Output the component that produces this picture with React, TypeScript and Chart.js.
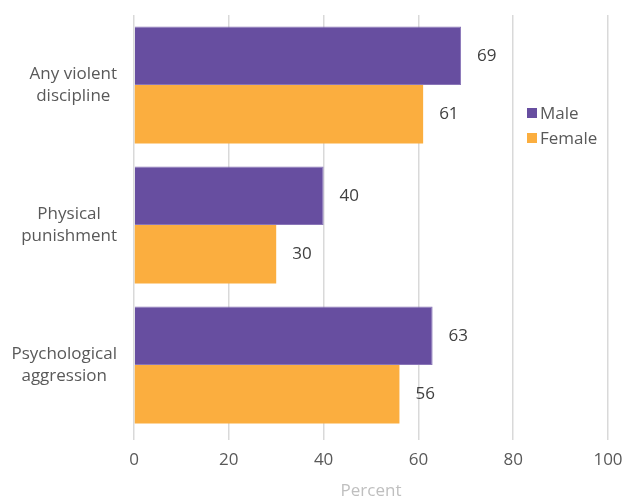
import React, { useEffect, useRef } from "react";
import { Chart, registerables } from "chart.js";

Chart.register(...registerables);

const categories: string[][] = [
  ["Any violent", "discipline"],
  ["Physical", "punishment"],
  ["Psychological", "aggression"],
];
const maleValues = [69, 40, 63];
const femaleValues = [61, 30, 56];
const xTicks = [0, 20, 40, 60, 80, 100];
const seriesNames = ["Male", "Female"];
const colors = ["#674ea0", "#fbae3f"];

const FONT = "'Open Sans', sans-serif";
const FS = 17;

const labelPlugin = {
  id: "customLabels",
  afterDatasetsDraw(chart: any) {
    const ctx = chart.ctx;
    ctx.save();
    ctx.font = `${FS}px ${FONT}`;
    ctx.fillStyle = "#404040";
    ctx.textBaseline = "middle";
    ctx.textAlign = "left";
    chart.data.datasets.forEach((ds: any, i: number) => {
      const meta = chart.getDatasetMeta(i);
      meta.data.forEach((bar: any, j: number) => {
        ctx.fillText(String(ds.data[j]), bar.x + 16, bar.y);
      });
    });
    // y category labels
    const yScale = chart.scales.y;
    ctx.fillStyle = "#595959";
    ctx.textAlign = "center";
    categories.forEach((lines, i) => {
      const cy = yScale.getPixelForValue(i);
      let maxW = 0;
      lines.forEach((l) => (maxW = Math.max(maxW, ctx.measureText(l).width)));
      const right = chart.chartArea.left - 17;
      const cx = right - maxW / 2;
      const lh = 22;
      const startY = cy - ((lines.length - 1) * lh) / 2;
      lines.forEach((l, k) => ctx.fillText(l, cx, startY + k * lh));
    });
    ctx.restore();
  },
};

export default function App() {
  const ref = useRef<HTMLCanvasElement>(null);
  useEffect(() => {
    if (!ref.current) return;
    const chart = new Chart(ref.current, {
      type: "bar",
      data: {
        labels: categories.map((c) => c.join(" ")),
        datasets: [
          {
            label: seriesNames[0],
            data: maleValues,
            backgroundColor: colors[0],
            borderColor: "#8a76b8",
            borderWidth: 1,
            categoryPercentage: 0.835,
            barPercentage: 1,
          },
          {
            label: seriesNames[1],
            data: femaleValues,
            backgroundColor: colors[1],
            borderWidth: 0,
            categoryPercentage: 0.835,
            barPercentage: 1,
          },
        ],
      },
      options: {
        indexAxis: "y",
        animation: false,
        responsive: false,
        maintainAspectRatio: false,
        layout: { padding: { top: 15, right: 18, left: 0, bottom: 0 } },
        plugins: {
          legend: { display: false },
          tooltip: { enabled: false },
        },
        scales: {
          x: {
            min: 0,
            max: 100,
            afterBuildTicks: (s: any) => {
              s.ticks = xTicks.map((v) => ({ value: v }));
            },
            border: { display: false },
            grid: { color: "#d9d9d9", lineWidth: 1.5, tickLength: 5, drawTicks: true },
            ticks: {
              color: "#595959",
              font: { family: FONT, size: FS },
              padding: 10,
            },
            title: {
              display: true,
              text: "Percent",
              color: "#bfbfbf",
              font: { family: FONT, size: FS, lineHeight: 0.8 },
              padding: { top: 6, bottom: 0 },
            },
            afterFit: (s: any) => {
              s.height = 63;
              s.paddingLeft = 0;
              s.paddingRight = 0;
            },
          },
          y: {
            border: { display: false },
            grid: { display: false },
            ticks: { display: false },
            afterFit: (s: any) => {
              s.width = 134;
              s.paddingTop = 0;
              s.paddingBottom = 0;
            },
          },
        },
      },
      plugins: [labelPlugin],
    });
    return () => chart.destroy();
  }, []);

  return (
    <div style={{ position: "fixed", left: 0, top: 0, width: 626, height: 498, background: "#fff" }}>
      <canvas ref={ref} width={626} height={498} style={{ display: "block" }} />
      <div
        style={{
          position: "absolute",
          left: 527,
          top: 100,
          fontFamily: FONT,
          fontSize: FS,
          color: "#595959",
          lineHeight: "25px",
        }}
      >
        {seriesNames.map((n, i) => (
          <div key={n} style={{ display: "flex", alignItems: "center" }}>
            <span style={{ display: "inline-block", width: 10, height: 10, background: colors[i], marginRight: 3 }} />
            <span>{n}</span>
          </div>
        ))}
      </div>
    </div>
  );
}
